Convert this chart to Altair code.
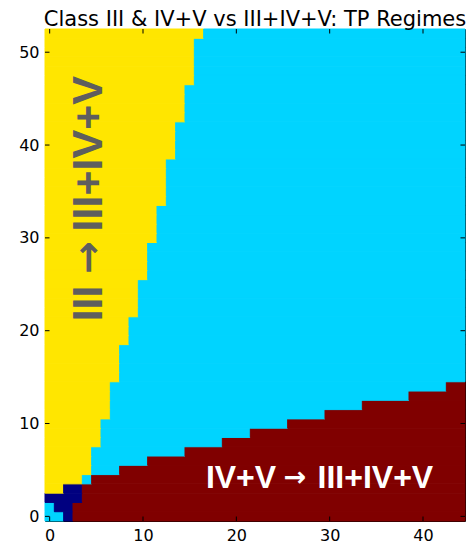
import altair as alt
import pandas as pd

N_COLS = 45
N_ROWS = 53

# Yellow / cyan border: first cyan column for each band of rows (rows 4..52)
yc_row_from = [4, 5, 8, 11, 15, 19, 22, 26, 30, 34, 39, 43, 47, 52]
yc_row_to = [4, 7, 10, 14, 18, 21, 25, 29, 33, 38, 42, 46, 51, 52]
yc_first_cyan = [4, 5, 6, 7, 8, 9, 10, 11, 12, 13, 14, 15, 16, 17]

# Maroon / cyan border: highest maroon row for each band of columns
mr_col_from = [3, 4, 5, 8, 11, 15, 19, 22, 26, 30, 34, 39, 43]
mr_col_to = [3, 4, 7, 10, 14, 18, 21, 25, 29, 33, 38, 42, 44]
mr_top_row = [1, 3, 4, 5, 6, 7, 8, 9, 10, 11, 12, 13, 14]

# Lower-left corner cells (rows 0..3, first columns)
corner_row0 = ["cyan", "cyan", "navy"]
corner_row1 = ["cyan", "navy", "navy"]
corner_row2 = ["navy", "navy", "navy", "navy"]
corner_row3 = ["yellow", "yellow", "navy", "navy"]

categories = ["navy", "cyan", "yellow", "maroon"]
colors = ["#000080", "#00D4FF", "#FFE600", "#800000"]

x_ticks = [0, 10, 20, 30, 40]
y_ticks = [0, 10, 20, 30, 40, 50]

first_cyan = {}
for a, b, v in zip(yc_row_from, yc_row_to, yc_first_cyan):
    for r in range(a, b + 1):
        first_cyan[r] = v
maroon_top = {}
for a, b, v in zip(mr_col_from, mr_col_to, mr_top_row):
    for c in range(a, b + 1):
        maroon_top[c] = v
corner = {0: corner_row0, 1: corner_row1, 2: corner_row2, 3: corner_row3}


def regime(r, c):
    cat = "cyan"
    if r in first_cyan and c < first_cyan[r]:
        cat = "yellow"
    if r <= maroon_top.get(c, -1):
        cat = "maroon"
    if r in corner and c < len(corner[r]):
        cat = corner[r][c]
    return cat


# merge each row into horizontal runs of equal regime
rows = []
for r in range(N_ROWS):
    start = 0
    cur = regime(r, 0)
    for c in range(1, N_COLS + 1):
        nxt = regime(r, c) if c < N_COLS else None
        if nxt != cur:
            rows.append({"x0": start - 0.5, "x1": c - 0.5, "y0": r - 0.5, "y1": r + 0.5,
                         "regime": cur})
            start = c
            cur = nxt
grid = pd.DataFrame(rows)

xscale = alt.Scale(domain=[-0.5, 44.5], nice=False, zero=False)
yscale = alt.Scale(domain=[-0.5, 52.5], nice=False, zero=False)
cscale = alt.Scale(domain=categories, range=colors)

cells = alt.Chart(grid).mark_rect(strokeWidth=1).encode(
    x=alt.X("x0:Q", scale=xscale,
            axis=alt.Axis(values=x_ticks, title=None, ticks=False, labelPadding=6,
                          domain=False, grid=False, labelFont="DejaVu Sans",
                          labelFontSize=16, labelColor="#000")),
    x2="x1:Q",
    y=alt.Y("y0:Q", scale=yscale,
            axis=alt.Axis(values=y_ticks, title=None, ticks=False, labelPadding=6,
                          domain=False, grid=False, labelFont="DejaVu Sans",
                          labelFontSize=16, labelColor="#000", minExtent=37, maxExtent=37)),
    y2="y1:Q",
    color=alt.Color("regime:N", scale=cscale, legend=None),
    stroke=alt.Stroke("regime:N", scale=cscale, legend=None),
)

# inward tick marks on all four sides (clipped to the frame)
xt = pd.DataFrame({"v": x_ticks})
yt = pd.DataFrame({"v": y_ticks})


def xtick(edge):
    return alt.Chart(xt).mark_tick(orient="vertical", size=9, thickness=1, color="#000",
                                   clip=True, opacity=1).encode(
        x=alt.X("v:Q", scale=xscale), y=alt.Y(datum=edge, scale=yscale))


def ytick(edge):
    return alt.Chart(yt).mark_tick(orient="horizontal", size=9, thickness=1, color="#000",
                                   clip=True, opacity=1).encode(
        y=alt.Y("v:Q", scale=yscale), x=alt.X(datum=edge, scale=xscale))


# Rotated grey annotation pieces (text, centre x, centre y)
grey_text = ["III", "\u2192", "III+IV+V"]
grey_x = [4.26, 4.26, 4.26]
grey_y = [22.94, 27.87, 39.06]
# White annotation pieces
white_text = ["IV+V", "\u2192", "III+IV+V"]
white_x = [20.5, 26.3, 34.9]
white_y = [4.1, 4.1, 4.1]

grey = pd.DataFrame({"x": grey_x, "y": grey_y, "label": grey_text})
white = pd.DataFrame({"x": white_x, "y": white_y, "label": white_text})


def words(df, color, size, angle):
    return alt.Chart(df).transform_filter(alt.datum.label != "\u2192").mark_text(
        angle=angle, font="Liberation Sans", fontWeight="bold", fontSize=size,
        color=color, baseline="middle", align="center").encode(
        x=alt.X("x:Q", scale=xscale), y=alt.Y("y:Q", scale=yscale), text="label:N")


def arrow(df, color, size, angle):
    return alt.Chart(df).transform_filter(alt.datum.label == "\u2192").mark_text(
        angle=angle, font="DejaVu Sans", fontWeight="bold", fontSize=size,
        color=color, baseline="middle", align="center").encode(
        x=alt.X("x:Q", scale=xscale), y=alt.Y("y:Q", scale=yscale), text="label:N")


chart = alt.layer(
    cells,
    xtick(-0.5), xtick(52.5), ytick(-0.5), ytick(44.5),
    words(grey, "#5E5E5E", 43, 270), arrow(grey, "#5E5E5E", 39, 270),
    words(white, "#FFFFFF", 32, 0), arrow(white, "#FFFFFF", 27, 0),
).properties(
    width=458, height=535,
    autosize=alt.AutoSizeParams(type="fit", contains="padding"),
    title=alt.TitleParams("Class III & IV+V vs III+IV+V: TP Regimes", font="DejaVu Sans",
                          fontSize=21, fontWeight="normal", color="#000", offset=-1,
                          anchor="middle"),
    padding={"left": 0, "top": 0, "right": 0, "bottom": 0},
).configure_view(stroke="#000", strokeWidth=1)

chart.save("out.html", embed_options={"renderer": "svg", "actions": False})
